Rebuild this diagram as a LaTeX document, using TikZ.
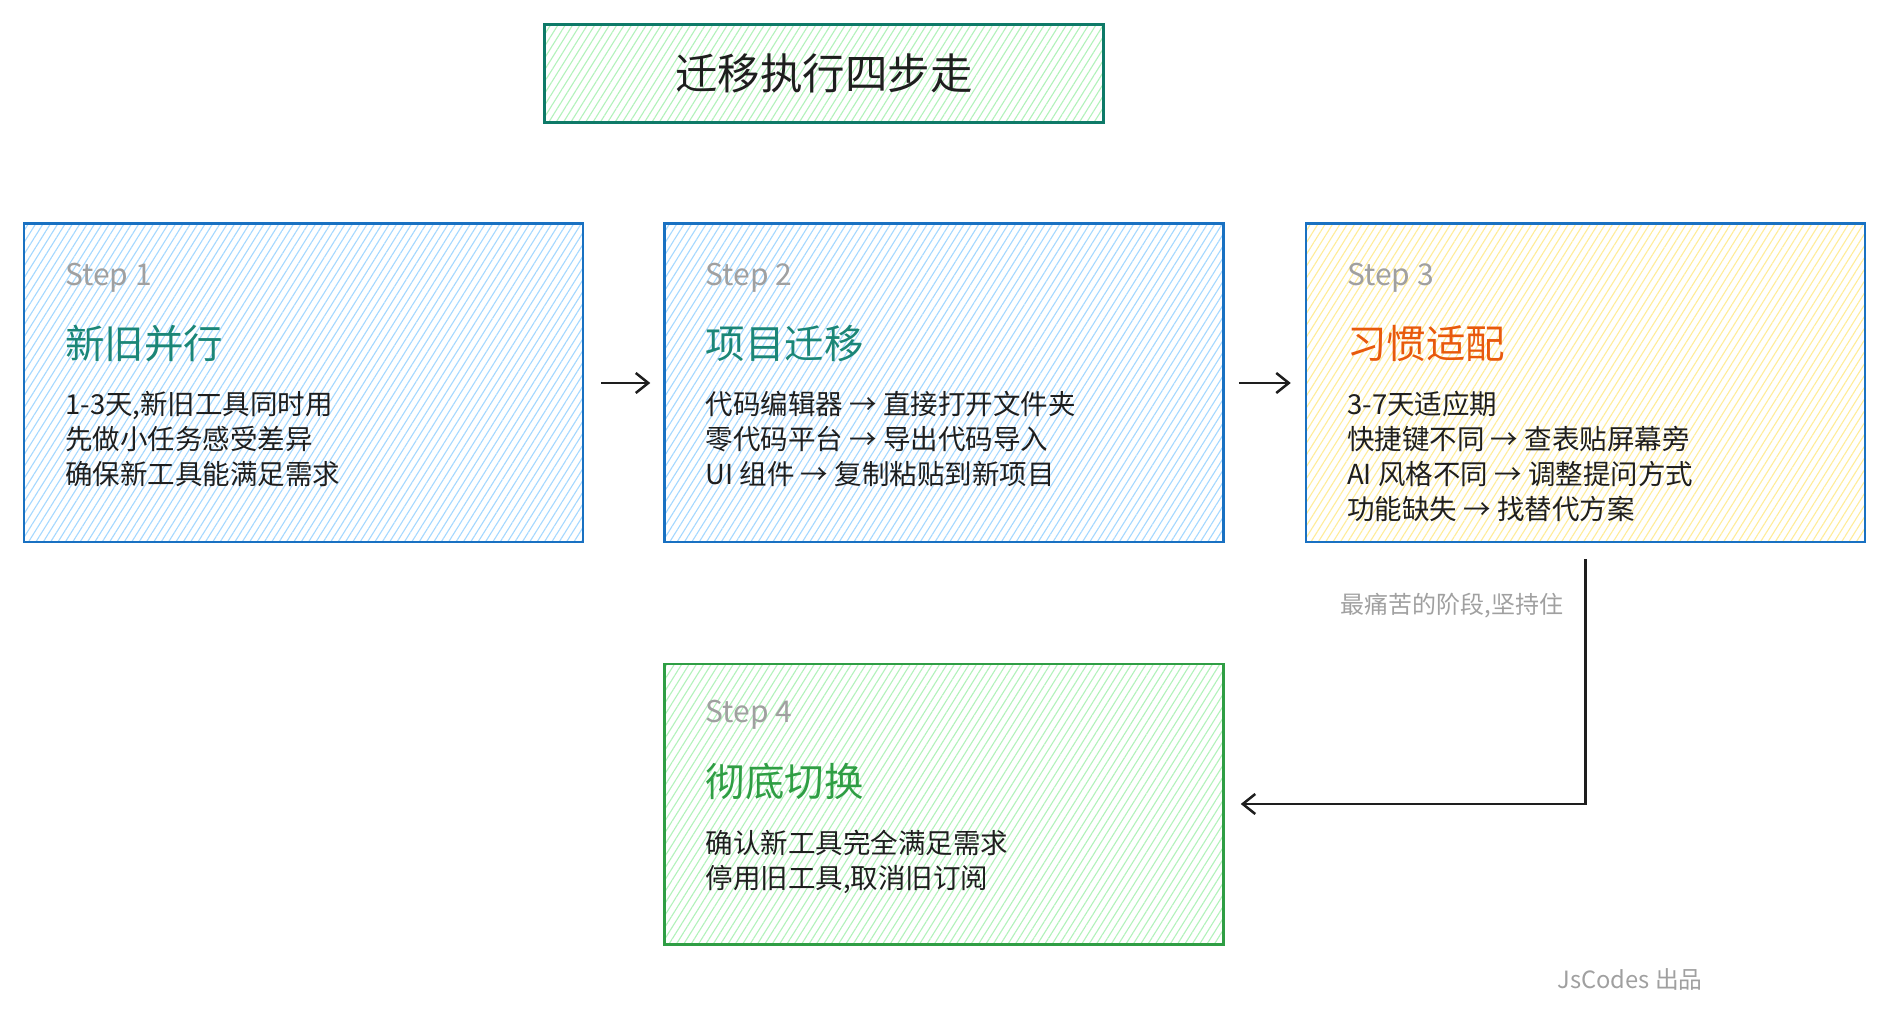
\documentclass[tikz,border=0pt]{standalone}
\usepackage{fontspec}
\setmainfont{Noto Sans CJK SC}
\usetikzlibrary{positioning,calc,arrows.meta,patterns.meta}

\definecolor{boxblue}{HTML}{1971C2}
\definecolor{boxgreen}{HTML}{2F9E44}
\definecolor{boxteal}{HTML}{0E7A68}
\definecolor{hatchblue}{HTML}{A5D8FF}
\definecolor{hatchyellow}{HTML}{FFEC99}
\definecolor{hatchgreen}{HTML}{B2F2BB}
\definecolor{titleteal}{HTML}{1B8677}
\definecolor{titleorange}{HTML}{E8590C}
\definecolor{inkgray}{HTML}{A0A0A0}
\definecolor{ink}{HTML}{1E1E1E}

\tikzset{
  hatch/.style={pattern={Lines[angle=58,distance=2.5pt,line width=0.45pt]}, pattern color=#1},
  stepbox/.style={draw=boxblue, line width=1pt, hatch=hatchblue, inner sep=0pt,
    minimum width=223.6pt, minimum height=127.4pt},
  steplabel/.style={anchor=west, inner sep=0pt, text=inkgray, font=\fontsize{12}{14}\selectfont},
  steptitle/.style={anchor=west, inner sep=0pt, font=\fontsize{15.8}{18}\selectfont},
  stepbody/.style={anchor=north west, inner sep=0pt, align=left, text=ink,
    font=\fontsize{11}{14}\selectfont},
  flowarrow/.style={draw=ink, line width=1pt, -{Straight Barb[length=5pt,width=8pt]}},
}

\begin{document}
\begin{tikzpicture}[x=0.4pt, y=-0.4pt]
  \useasboundingbox (0,0) rectangle (1888,1024);

  % title
  \node[draw=boxteal, line width=1pt, hatch=hatchgreen, inner sep=0pt,
    minimum width=223.6pt, minimum height=39.2pt, text=ink,
    font=\fontsize{17}{20}\selectfont] (heading) at (824,73.5) {迁移执行四步走};

  % the four steps
  \node[stepbox] (step1) at (303.5,383) {};
  \node[stepbox, right=31.6pt of step1] (step2) {};
  \node[stepbox, right=32pt of step2, hatch=hatchyellow] (step3) {};
  \node[stepbox, below=47.6pt of step2, draw=boxgreen, hatch=hatchgreen,
    minimum height=112.2pt] (step4) {};

  \node[steplabel] (s1label) at ($(step1.north west)+(42,55)$) {Step 1};
  \node[steptitle, text=titleteal] (s1title) at ($(step1.north west)+(42,121)$) {新旧并行};
  \node[stepbody] (s1body) at ($(step1.north west)+(42,168)$)
    {1-3天,新旧工具同时用\\先做小任务感受差异\\确保新工具能满足需求};

  \node[steplabel] (s2label) at ($(step2.north west)+(42,55)$) {Step 2};
  \node[steptitle, text=titleteal] (s2title) at ($(step2.north west)+(42,121)$) {项目迁移};
  \node[stepbody] (s2body) at ($(step2.north west)+(42,168)$)
    {代码编辑器 → 直接打开文件夹\\零代码平台 → 导出代码导入\\UI 组件 → 复制粘贴到新项目};

  \node[steplabel] (s3label) at ($(step3.north west)+(42,55)$) {Step 3};
  \node[steptitle, text=titleorange] (s3title) at ($(step3.north west)+(42,121)$) {习惯适配};
  \node[stepbody] (s3body) at ($(step3.north west)+(42,168)$)
    {3-7天适应期\\快捷键不同 → 查表贴屏幕旁\\AI 风格不同 → 调整提问方式\\功能缺失 → 找替代方案};

  \node[steplabel] (s4label) at ($(step4.north west)+(42,52)$) {Step 4};
  \node[steptitle, text=boxgreen] (s4title) at ($(step4.north west)+(42,119)$) {彻底切换};
  \node[stepbody] (s4body) at ($(step4.north west)+(42,167)$)
    {确认新工具完全满足需求\\停用旧工具,取消旧订阅};

  % connectors
  \draw[flowarrow, shorten <=6.8pt, shorten >=5.2pt] (step1) -- (step2);
  \draw[flowarrow, shorten <=5.6pt, shorten >=5.6pt] (step2) -- (step3);
  \draw[flowarrow, shorten <=6.4pt, shorten >=6.4pt] (step3.south) |- (step4.east)
    node[pos=0.12, left=5pt, text=inkgray, font=\fontsize{9.6}{11}\selectfont] (hint) {最痛苦的阶段,坚持住};

  \node[text=inkgray, font=\fontsize{9.5}{11}\selectfont] (credit) at (1630,979) {JsCodes 出品};
\end{tikzpicture}
\end{document}
